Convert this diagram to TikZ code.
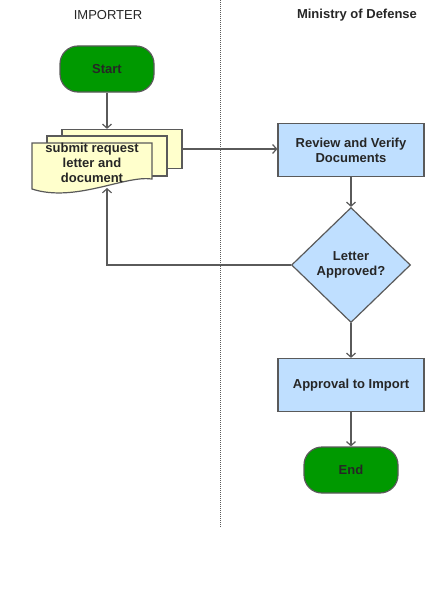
\documentclass[tikz,border=0pt]{standalone}
\usepackage{fontspec}
\setmainfont{Liberation Sans}
\usetikzlibrary{shapes.geometric,arrows.meta}
\definecolor{termgreen}{HTML}{009900}
\definecolor{procblue}{HTML}{BFDFFF}
\definecolor{docyellow}{HTML}{FFFFCC}
\definecolor{edgegray}{HTML}{5A5A5A}
\begin{document}
\begin{tikzpicture}[x=1pt,y=-1pt,
	every node/.style={font=\fontsize{13}{15}\selectfont\bfseries,align=center,text=black!85},
	term/.style={draw=edgegray,line width=1.2pt,fill=termgreen,rounded corners=18pt,minimum width=94pt,minimum height=46pt},
	proc/.style={draw=edgegray,line width=1.2pt,fill=procblue,minimum width=146pt,minimum height=53pt},
	decide/.style={diamond,draw=edgegray,line width=1.2pt,fill=procblue,minimum width=119pt,minimum height=115pt,inner sep=0pt},
	sheet/.style={draw=edgegray,line width=1.2pt,fill=docyellow},
	flow/.style={draw=edgegray,line width=1.2pt,-{Straight Barb[length=4pt,width=9pt]}}]
	\useasboundingbox (0,0) rectangle (438,610);

	\node[font=\fontsize{13}{15}\selectfont] (imp) at (108,15) {IMPORTER};
	\node (mod) at (357,15) {Ministry of Defense};
	\draw[edgegray,line width=0.8pt,dash pattern=on 1pt off 1pt] (220,0) -- (220,528);

	\node[term] (start) at (107,69) {Start};
	\node[sheet,minimum width=120pt,minimum height=39pt] (back) at (122,149) {};
	\node[sheet,minimum width=120pt,minimum height=40pt] (mid) at (107,156) {};
	\draw[sheet] (32,143) -- (152,143) -- (152,179) .. controls (125,175) and (75,203) .. (32,189) -- cycle;
	\node (doc) at (92,163) {submit request\\letter and\\document};
	\coordinate (docbot) at (107,188);

	\node[proc] (review) at (351,150) {Review and Verify\\Documents};
	\node[decide] (check) at (351,265) {Letter\\Approved?};
	\node[proc] (approve) at (351,385) {Approval to Import};
	\node[term] (end) at (351,470) {End};

	\draw[flow] (start.south) -- (start.south |- back.north);
	\draw[flow] (back.east) -- (back.east -| review.west);
	\draw[flow] (review) -- (check);
	\draw[flow] (check.west) -| (docbot);
	\draw[flow] (check) -- (approve);
	\draw[flow] (approve) -- (end);
\end{tikzpicture}
\end{document}
